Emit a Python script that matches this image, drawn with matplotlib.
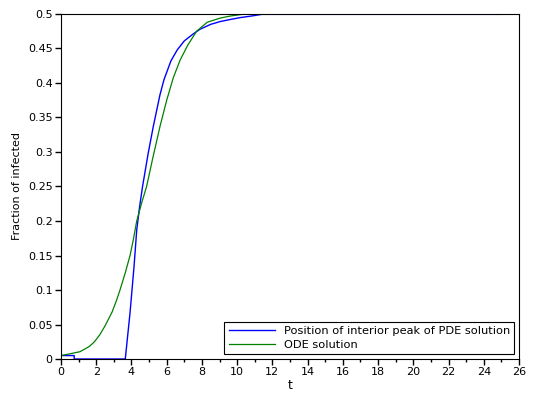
import matplotlib
matplotlib.use("Agg")
import matplotlib.pyplot as plt
from matplotlib.ticker import MultipleLocator

# values
t_pde = [0, 0.75, 0.75, 3.65, 3.92, 4.15, 4.3, 4.47, 4.63, 4.95, 5.24, 5.62, 5.85, 6.24, 6.6,
         7.0, 7.5, 7.9, 8.5, 9.03, 9.6, 10.16, 10.8, 11.4, 25]
y_pde = [0.005, 0.005, 0.0, 0.0, 0.067, 0.135, 0.187, 0.222, 0.25, 0.298, 0.337, 0.383, 0.405,
         0.432, 0.448, 0.461, 0.471, 0.478, 0.485, 0.489, 0.492, 0.4947, 0.497, 0.4995, 0.4995]

t_ode = [0, 0.5, 1.08, 1.6, 1.9, 2.2, 2.5, 2.9, 3.16, 3.35, 3.65, 3.92, 4.1, 4.3, 4.6, 4.86,
         5.2, 5.62, 6.0, 6.38, 6.76, 7.2, 7.7, 8.3, 9.03, 9.6, 10.3, 11, 12, 25]
y_ode = [0.005, 0.0075, 0.0106, 0.018, 0.025, 0.035, 0.048, 0.068, 0.0855, 0.1, 0.125, 0.15,
         0.172, 0.2, 0.228, 0.25, 0.29, 0.337, 0.375, 0.408, 0.433, 0.455, 0.475, 0.488,
         0.494, 0.497, 0.4995, 0.4998, 0.4999, 0.5]

y_ticks = [0, 0.05, 0.1, 0.15, 0.2, 0.25, 0.3, 0.35, 0.4, 0.45, 0.5]
y_tick_labels = ["0", "0.05", "0.1", "0.15", "0.2", "0.25", "0.3", "0.35", "0.4", "0.45", "0.5"]

fig = plt.figure(figsize=(5.34, 3.93), dpi=100)
ax = fig.add_axes([0.1142, 0.0865, 0.8577, 0.8779])

ax.plot(t_pde, y_pde, color="#0000ff", lw=1.0, label="Position of interior peak of PDE solution")
ax.plot(t_ode, y_ode, color="#008000", lw=0.9, label="ODE solution")

ax.set_xlim(0, 26)
ax.set_ylim(0, 0.5)
ax.xaxis.set_major_locator(MultipleLocator(2))
ax.xaxis.set_minor_locator(MultipleLocator(1))
ax.set_yticks(y_ticks)
ax.set_yticklabels(y_tick_labels)
ax.tick_params(which="major", direction="out", length=4, width=1, labelsize=8, pad=2)
ax.tick_params(which="minor", direction="out", length=2, width=1)
ax.tick_params(top=False, right=False)

ax.set_xlabel("t", fontsize=9, labelpad=1)
ax.set_ylabel("Fraction of infected", fontsize=8, labelpad=4)

leg = ax.legend(loc="lower right", fontsize=8.2, fancybox=False, framealpha=1,
                edgecolor="black", borderaxespad=0.4, handlelength=4.0,
                borderpad=0.4, labelspacing=0.3)
leg.get_frame().set_linewidth(0.8)

fig.savefig("out.png", dpi=100)
